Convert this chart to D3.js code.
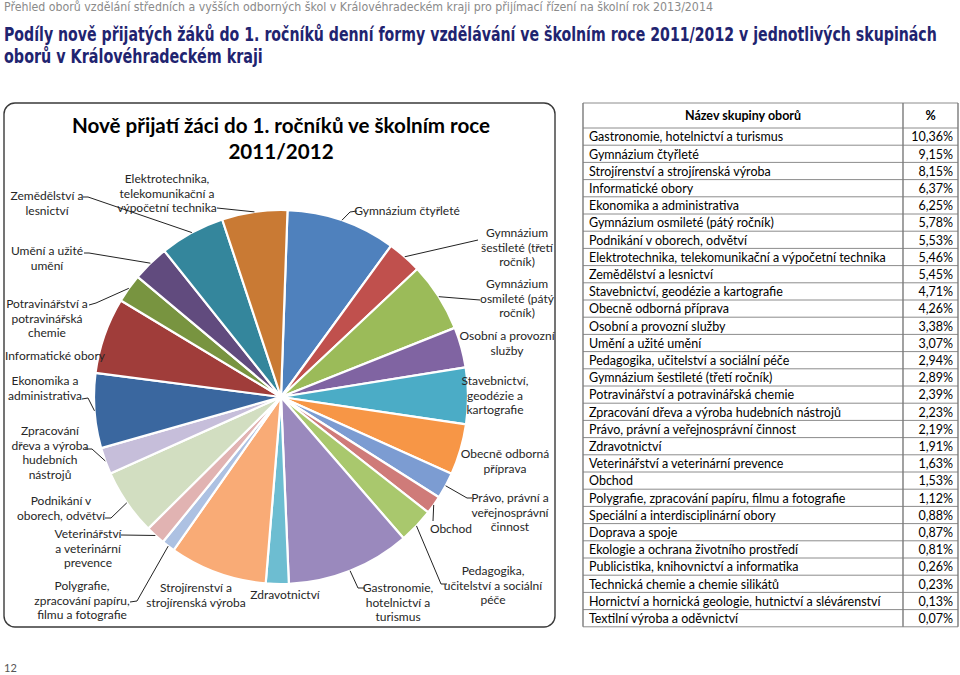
<!DOCTYPE html>
<html><head><meta charset="utf-8">
<script src="https://cdn.jsdelivr.net/npm/d3@7/dist/d3.min.js"></script>
<style>
body{margin:0;background:#fff;}
svg{display:block;}
</style></head><body>
<svg id="c" width="960" height="675"></svg>
<script>
// ---------------- DATA ----------------
const pageHeader = "Přehled oborů vzdělání středních a vyšších odborných škol v Královéhradeckém kraji pro přijímací řízení na školní rok 2013/2014";
const pageTitleLines = [
  "Podíly nově přijatých žáků do 1. ročníků denní formy vzdělávání ve školním roce 2011/2012 v jednotlivých skupinách",
  "oborů v Královéhradeckém kraji"
];
const chartTitleLines = ["Nově přijatí žáci do 1. ročníků ve školním roce", "2011/2012"];
const tableHeader = ["Název skupiny oborů", "%"];
const pageNumber = "12";

const tableNames = [
  "Gastronomie, hotelnictví a turismus",
  "Gymnázium čtyřleté",
  "Strojírenství a strojírenská výroba",
  "Informatické obory",
  "Ekonomika a administrativa",
  "Gymnázium osmileté (pátý ročník)",
  "Podnikání v oborech, odvětví",
  "Elektrotechnika, telekomunikační a výpočetní technika",
  "Zemědělství a lesnictví",
  "Stavebnictví, geodézie a kartografie",
  "Obecně odborná příprava",
  "Osobní a provozní služby",
  "Umění a užité umění",
  "Pedagogika, učitelství a sociální péče",
  "Gymnázium šestileté (třetí ročník)",
  "Potravinářství a potravinářská chemie",
  "Zpracování dřeva a výroba hudebních nástrojů",
  "Právo, právní a veřejnosprávní činnost",
  "Zdravotnictví",
  "Veterinářství a veterinární prevence",
  "Obchod",
  "Polygrafie, zpracování papíru, filmu a fotografie",
  "Speciální a interdisciplinární obory",
  "Doprava a spoje",
  "Ekologie a ochrana životního prostředí",
  "Publicistika, knihovnictví a informatika",
  "Technická chemie a chemie silikátů",
  "Hornictví a hornická geologie, hutnictví a slévárenství",
  "Textilní výroba a oděvnictví"
];
const tableValues = [10.36, 9.15, 8.15, 6.37, 6.25, 5.78, 5.53, 5.46, 5.45, 4.71, 4.26, 3.38, 3.07, 2.94,
  2.89, 2.39, 2.23, 2.19, 1.91, 1.63, 1.53, 1.12, 0.88, 0.87, 0.81, 0.26, 0.23, 0.13, 0.07];

// pie slices, clockwise from the top
const pieCategories = [
  "Gymnázium čtyřleté",
  "Gymnázium šestileté (třetí ročník)",
  "Gymnázium osmileté (pátý ročník)",
  "Osobní a provozní služby",
  "Stavebnictví, geodézie a kartografie",
  "Obecně odborná příprava",
  "Právo, právní a veřejnosprávní činnost",
  "Obchod",
  "Pedagogika, učitelství a sociální péče",
  "Gastronomie, hotelnictví a turismus",
  "Zdravotnictví",
  "Strojírenství a strojírenská výroba",
  "Polygrafie, zpracování papíru, filmu a fotografie",
  "Veterinářství a veterinární prevence",
  "Podnikání v oborech, odvětví",
  "Zpracování dřeva a výroba hudebních nástrojů",
  "Ekonomika a administrativa",
  "Informatické obory",
  "Potravinářství a potravinářská chemie",
  "Umění a užité umění",
  "Zemědělství a lesnictví",
  "Elektrotechnika, telekomunikační a výpočetní technika"
];
const pieValues = [9.15, 2.89, 5.78, 3.38, 4.71, 4.26, 2.19, 1.53, 2.94, 10.36, 1.91, 8.15, 1.12, 1.63,
  5.53, 2.23, 6.25, 6.37, 2.39, 3.07, 5.45, 5.46];

// pie label texts (line breaks as in the chart)
const pieLabelLines = [
  ["Gymnázium čtyřleté"],
  ["Gymnázium", "šestileté (třetí", "ročník)"],
  ["Gymnázium", "osmileté (pátý", "ročník)"],
  ["Osobní a provozní", "služby"],
  ["Stavebnictví,", "geodézie a", "kartografie"],
  ["Obecně odborná", "příprava"],
  ["Právo, právní a", "veřejnosprávní", "činnost"],
  ["Obchod"],
  ["Pedagogika,", "učitelství a sociální", "péče"],
  ["Gastronomie,", "hotelnictví a", "turismus"],
  ["Zdravotnictví"],
  ["Strojírenství a", "strojírenská výroba"],
  ["Polygrafie,", "zpracování papíru,", "filmu a fotografie"],
  ["Veterinářství", "a veterinární", "prevence"],
  ["Podnikání v", "oborech, odvětví"],
  ["Zpracování", "dřeva a výroba", "hudebních", "nástrojů"],
  ["Ekonomika a", "administrativa"],
  ["Informatické obory"],
  ["Potravinářství a", "potravinářská", "chemie"],
  ["Umění a užité", "umění"],
  ["Zemědělství a", "lesnictví"],
  ["Elektrotechnika,", "telekomunikační a", "výpočetní technika"]
];

// ---------------- STYLE / LAYOUT ----------------
const sliceColors = ["#4F81BD","#C0504D","#9BBB59","#8064A2","#4BACC6","#F79646",
  "#7C9CD2","#CF7B79","#A9C86D","#9A89BD","#6DBDD1","#F9AB76",
  "#ADC1E2","#E1B3B2","#D2DEC1","#C6BEDA","#3A679F","#A03D3A","#789440","#614B7E","#34869C","#C97A34"];

// label anchor (x center, first baseline) and leader elbow points, by slice index
const labelLayout = [
  {x:407, y:215, lead:[[357,211],[350,212]]},
  {x:517, y:237, lead:[[478,240]]},
  {x:517, y:288, lead:[[480,300]]},
  {x:507, y:340, lead:null},
  {x:495, y:385, lead:null},
  {x:505, y:458, lead:null},
  {x:510, y:502, lead:[[472,498],[467,498]]},
  {x:451, y:533, lead:[[433,521]]},
  {x:493, y:575, lead:[[447,584],[441,584]]},
  {x:398, y:592, lead:[[365,588],[358,588]]},
  {x:285, y:599, lead:null},
  {x:196, y:592, lead:null},
  {x:82,  y:590, lead:[[130,602],[137,601]]},
  {x:88,  y:538, lead:[[121,535]]},
  {x:61,  y:505, lead:[[105,518],[111,518]]},
  {x:50,  y:435, lead:[[85,449],[92,449]]},
  {x:45,  y:385, lead:[[82,399],[88,398]]},
  {x:55,  y:360, lead:null},
  {x:47,  y:308, lead:[[89,305],[96,303]]},
  {x:47,  y:255, lead:[[84,253],[89,253]]},
  {x:47,  y:200, lead:[[83,197],[88,197]]},
  {x:167, y:183, lead:[[217,208]]}
];

const FONT = "Lato, 'Open Sans', sans-serif";
const NARROW = "'Liberation Sans Narrow','DejaVu Sans Condensed',sans-serif";
const svg = d3.select("#c");

// fit a text horizontally to a target width by scaling it
function fitText(sel, x, y, width){
  const w = sel.node().getComputedTextLength();
  const s = w > 0 ? width / w : 1;
  sel.attr("x",0).attr("y",0).attr("transform",`translate(${x},${y}) scale(${s},1)`);
}

// page header
fitText(svg.append("text").attr("font-family",NARROW).attr("font-size",11.5).attr("fill","#8a8a8a")
  .text(pageHeader), 4, 11, 710);

const titleWidths = [933, 259];
pageTitleLines.forEach((t,i)=>{
  fitText(svg.append("text").attr("font-family",NARROW)
    .attr("font-weight","bold").attr("font-size",19).attr("fill","#1F2470").text(t), 4, 41 + i*22, titleWidths[i]);
});

// chart box
svg.append("rect").attr("x",4).attr("y",103).attr("width",551).attr("height",524)
  .attr("rx",11).attr("fill","#fff").attr("stroke","#3a3a3a").attr("stroke-width",1.4);

chartTitleLines.forEach((t,i)=>{
  svg.append("text").attr("x",281).attr("y",133 + i*26)
    .attr("text-anchor","middle").attr("font-family",FONT).attr("font-weight","bold")
    .attr("font-size",20.6).attr("fill","#000").text(t);
});

// pie
const cx = 281, cy = 397, R = 187;
const startA = 2 * Math.PI / 180;
const pieData = pieCategories.map((n,i)=>({name:n, value:pieValues[i], idx:i}));
const pie = d3.pie().sort(null).value(d=>d.value).startAngle(startA).endAngle(startA + 2*Math.PI);
const arcs = pie(pieData);
const arc = d3.arc().innerRadius(0).outerRadius(R);
const color = d3.scaleOrdinal().domain(pieCategories).range(sliceColors);

const g = svg.append("g").attr("transform",`translate(${cx},${cy})`);
g.selectAll("path").data(arcs).join("path")
  .attr("d",arc).attr("fill",d=>color(d.data.name))
  .attr("stroke","#fff").attr("stroke-width",2.2).attr("stroke-linejoin","round");

// leaders
arcs.forEach((a,i)=>{
  const L = labelLayout[i];
  if(!L.lead) return;
  const mid = (a.startAngle + a.endAngle)/2;
  const p = [cx + R*Math.sin(mid), cy - R*Math.cos(mid)];
  const pts = L.lead.concat([p]);
  svg.append("path").attr("d", d3.line()(pts))
    .attr("fill","none").attr("stroke","#222").attr("stroke-width",1);
});

// labels
arcs.forEach((a,i)=>{
  const L = labelLayout[i];
  const t = svg.append("text").attr("font-family",FONT).attr("font-size",12)
    .attr("fill","#262626").attr("text-anchor","middle");
  pieLabelLines[i].forEach((ln,j)=>{
    t.append("tspan").attr("x",L.x).attr("y",L.y + j*14.6).text(ln);
  });
});

// table
const tx0 = 583, tx1 = 903, tx2 = 958, ty0 = 103, headH = 25, rowH = 17.2;
const nRows = tableNames.length;
const yRow = d3.scaleBand().domain(d3.range(nRows)).range([ty0+headH, ty0+headH+rowH*nRows]);
const loc = d3.formatLocale({decimal:",", thousands:" ", grouping:[3], currency:["",""]});
const fmt = v => loc.format(".2f")(v) + "%";

const tg = svg.append("g");
tg.append("text").attr("x",(tx0+tx1)/2).attr("y",ty0+17).attr("text-anchor","middle")
  .attr("font-family",FONT).attr("font-weight","bold").attr("font-size",12.5).attr("fill","#000").text(tableHeader[0]);
tg.append("text").attr("x",(tx1+tx2)/2).attr("y",ty0+17).attr("text-anchor","middle")
  .attr("font-family",FONT).attr("font-weight","bold").attr("font-size",12.5).attr("fill","#000").text(tableHeader[1]);

tg.selectAll(".nm").data(tableNames).join("text").attr("class","nm")
  .attr("x",tx0+6).attr("y",(d,i)=>yRow(i)+13.3)
  .attr("font-family",FONT).attr("font-size",12.5).attr("fill","#000").text(d=>d);
tg.selectAll(".vl").data(tableValues).join("text").attr("class","vl")
  .attr("x",tx2-5).attr("y",(d,i)=>yRow(i)+13.3).attr("text-anchor","end")
  .attr("font-family",FONT).attr("font-size",12.5).attr("fill","#000").text(d=>fmt(d));

// grid lines
const hLines = [ty0].concat(d3.range(nRows+1).map(i=>ty0+headH+i*rowH));
tg.selectAll(".hl").data(hLines).join("line").attr("class","hl")
  .attr("x1",tx0).attr("x2",tx2).attr("y1",d=>d).attr("y2",d=>d)
  .attr("stroke","#8c8c8c").attr("stroke-width",1);
[tx0, tx1, tx2].forEach(x=>{
  tg.append("line").attr("x1",x).attr("x2",x).attr("y1",ty0).attr("y2",hLines[hLines.length-1])
    .attr("stroke","#7a7a7a").attr("stroke-width",1.4);
});

// page number
svg.append("text").attr("x",4).attr("y",672).attr("font-family",FONT).attr("font-size",11)
  .attr("fill","#555").text(pageNumber);
</script>
</body></html>
